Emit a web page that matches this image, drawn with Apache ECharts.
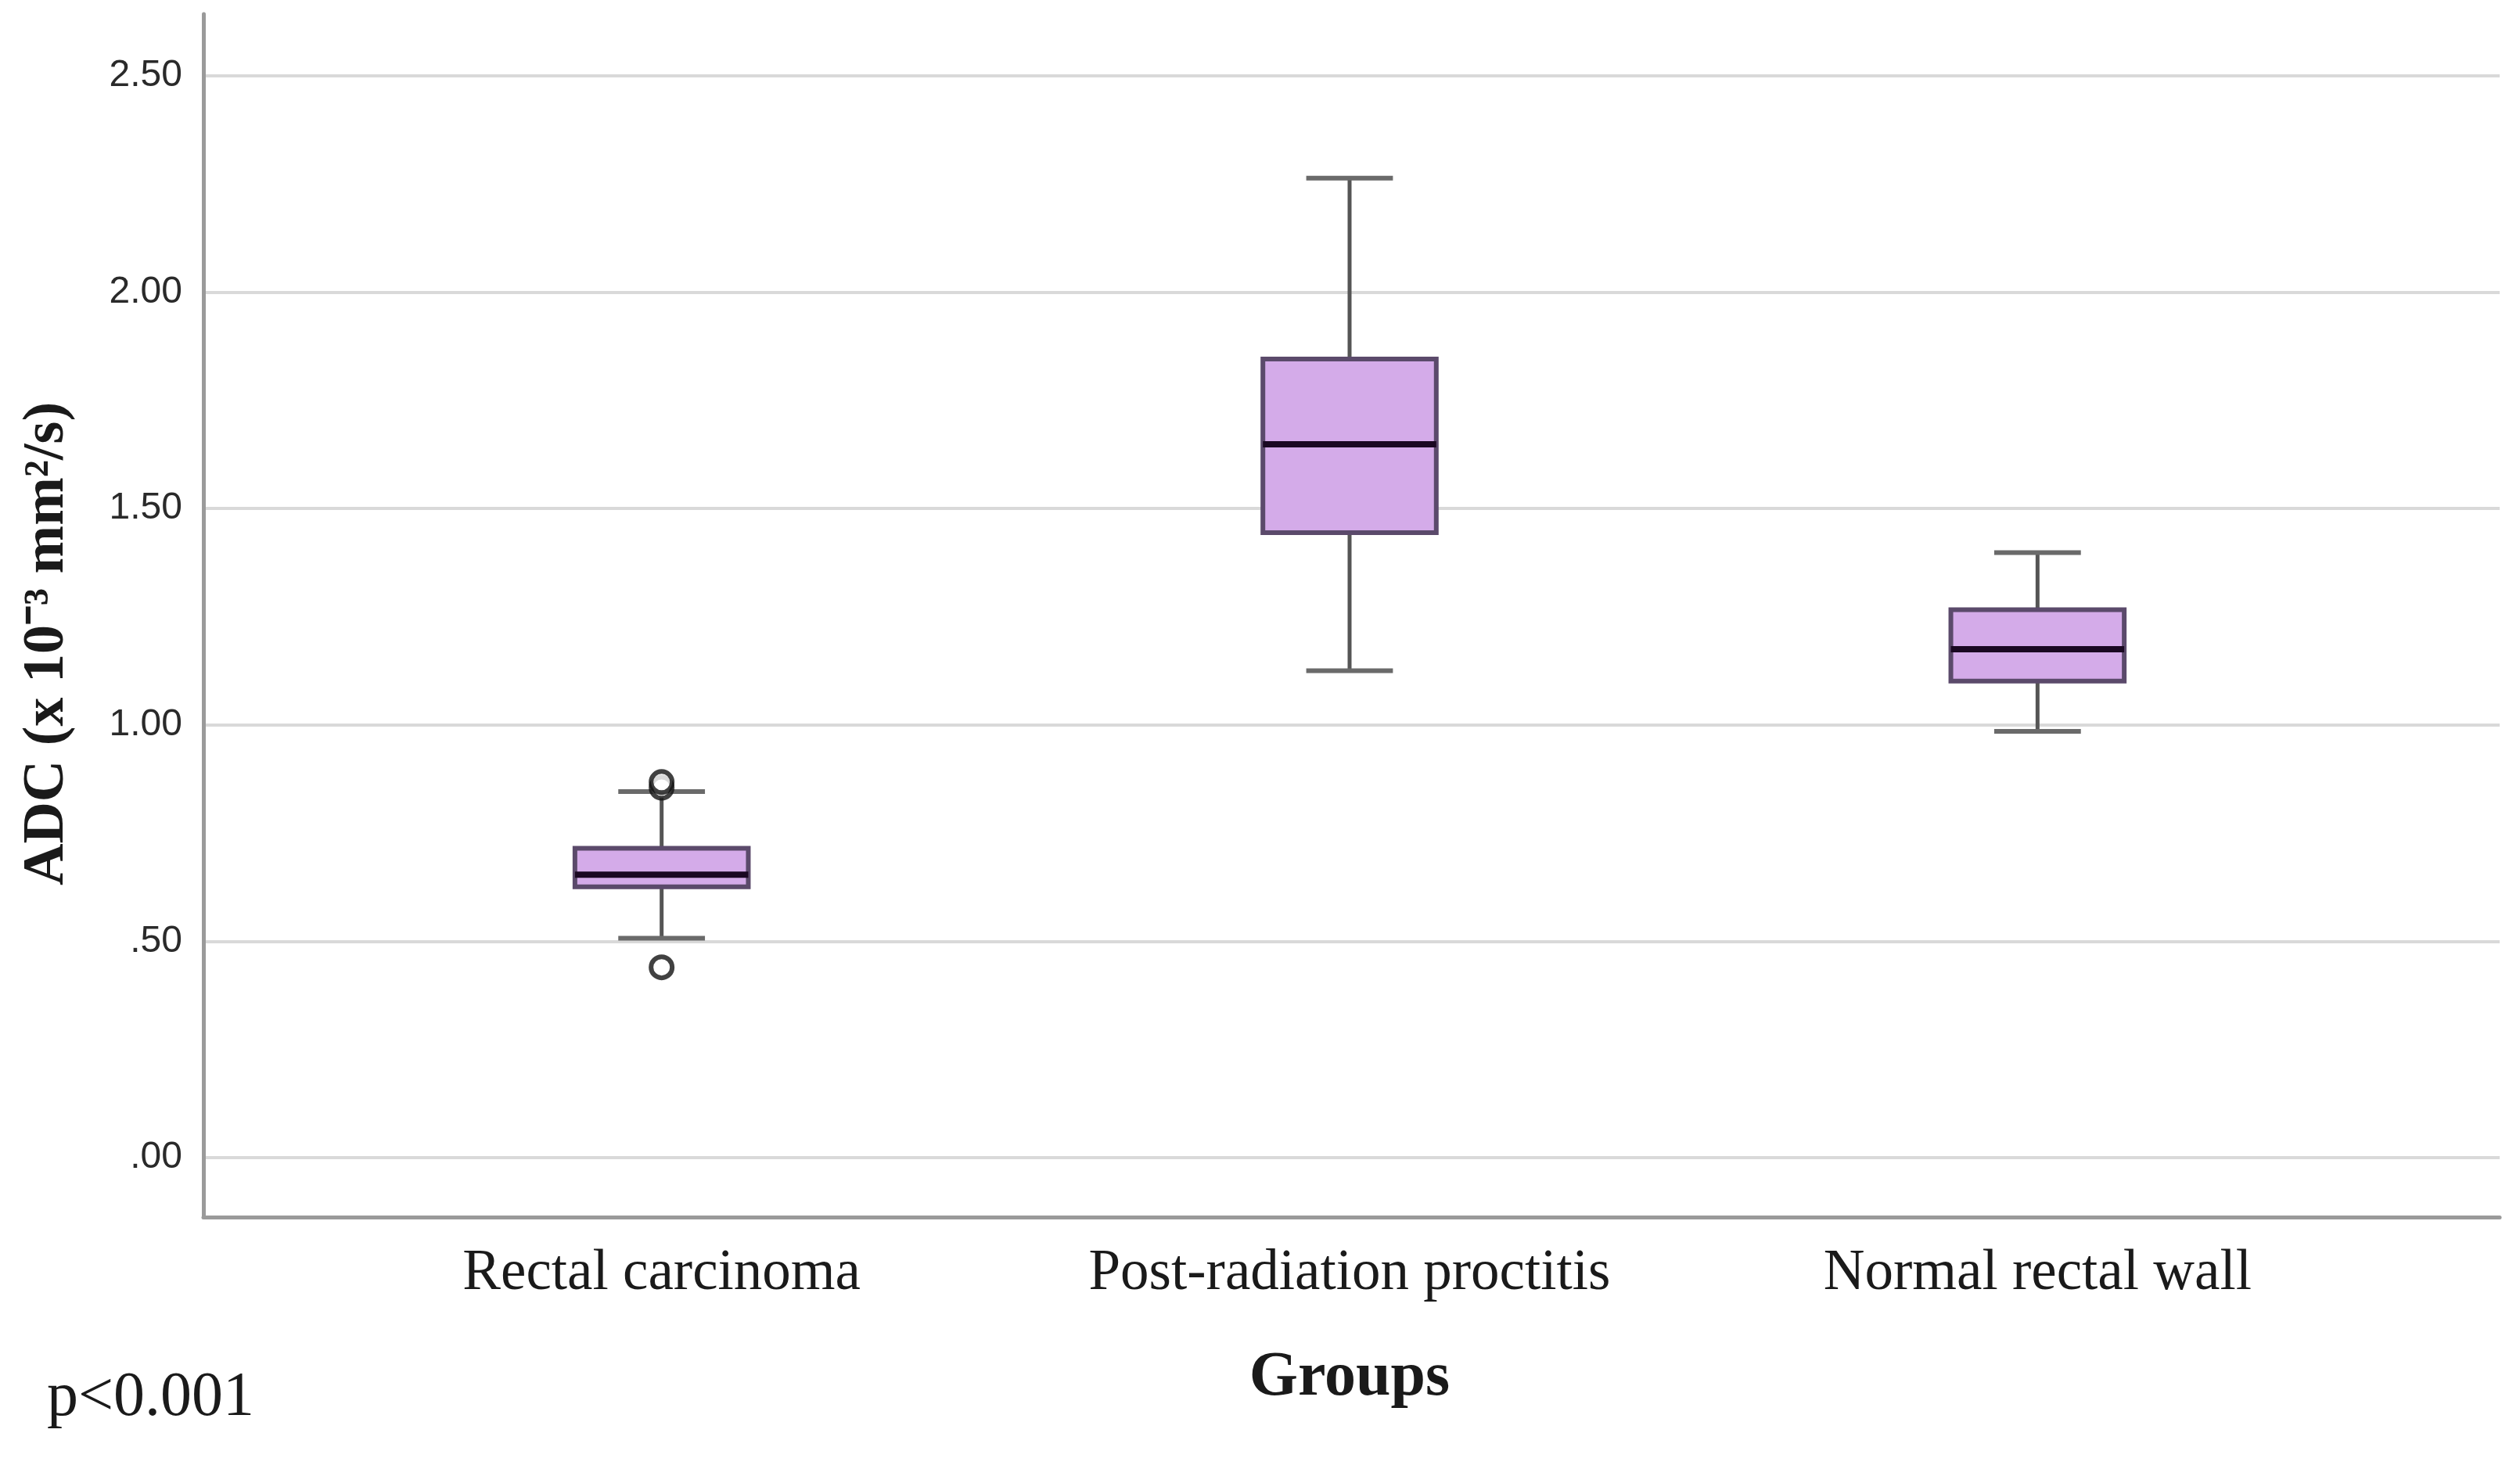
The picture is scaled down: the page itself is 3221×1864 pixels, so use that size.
<!DOCTYPE html>
<html lang="en">
  <head>
    <meta charset="UTF-8" />
    <title>ADC by group</title>
    <style>
      html, body { margin: 0; padding: 0; background: #fff; }
      #main { width: 3221px; height: 1864px; }
    </style>
  </head>
  <body>
    <div id="main"></div>

    <script src="https://cdn.jsdelivr.net/npm/echarts@6.0.0/dist/echarts.min.js"></script>
    <script>
      // ===== data =====
      const groups = ['Rectal carcinoma', 'Post-radiation proctitis', 'Normal rectal wall']
      const lowerWhisker = [0.507, 1.125, 0.985]
      const q1 = [0.626, 1.444, 1.101]
      const median = [0.654, 1.648, 1.175]
      const q3 = [0.715, 1.845, 1.266]
      const upperWhisker = [0.846, 2.263, 1.398]
      const outlierGroup = [0, 0, 0]
      const outlierValue = [0.44, 0.855, 0.868]
      const yTicks = [0, 0.5, 1, 1.5, 2, 2.5]

      const yMin = -0.137
      const yMax = 2.642

      const boxData = groups.map((g, i) => [i, lowerWhisker[i], q1[i], median[i], q3[i], upperWhisker[i]])
      const outlierData = outlierGroup.map((g, i) => [g, outlierValue[i]])

      // SPSS style labels: ".50", "1.00"
      const fmt = v => v.toFixed(2).replace(/^0\./, '.')

      const serif = "'Liberation Serif', 'Times New Roman', serif"

      function renderBox(params, api) {
        const idx = api.value(0)
        const band = api.size([1, 0])[0]
        const boxW = band * 0.252
        const capW = boxW * 0.5
        const pLow = api.coord([idx, api.value(1)])
        const pQ1 = api.coord([idx, api.value(2)])
        const pMed = api.coord([idx, api.value(3)])
        const pQ3 = api.coord([idx, api.value(4)])
        const pHigh = api.coord([idx, api.value(5)])
        const cx = pMed[0]
        const whisker = { stroke: '#555555', lineWidth: 5 }
        const cap = { stroke: '#6a6a6a', lineWidth: 6 }
        return {
          type: 'group',
          children: [
            { type: 'line', shape: { x1: cx, y1: pHigh[1], x2: cx, y2: pQ3[1] }, style: whisker },
            { type: 'line', shape: { x1: cx, y1: pQ1[1], x2: cx, y2: pLow[1] }, style: whisker },
            { type: 'line', shape: { x1: cx - capW / 2, y1: pHigh[1], x2: cx + capW / 2, y2: pHigh[1] }, style: cap },
            { type: 'line', shape: { x1: cx - capW / 2, y1: pLow[1], x2: cx + capW / 2, y2: pLow[1] }, style: cap },
            {
              type: 'rect',
              shape: { x: cx - boxW / 2, y: pQ3[1], width: boxW, height: pQ1[1] - pQ3[1] },
              style: { fill: '#d4abe9', stroke: '#5b4a6b', lineWidth: 6 }
            },
            {
              type: 'line',
              shape: { x1: cx - boxW / 2, y1: pMed[1], x2: cx + boxW / 2, y2: pMed[1] },
              style: { stroke: '#1a0822', lineWidth: 8 }
            }
          ]
        }
      }

      window.onload = function () {
        const myChart = echarts.init(document.getElementById('main'))

        const option = {
          backgroundColor: '#ffffff',
          animation: false,
          title: {
            text: 'p<0.001',
            left: 60,
            top: 1748,
            padding: 0,
            textStyle: { fontFamily: serif, fontSize: 80, fontWeight: 'normal', color: '#1a1a1a' }
          },
          grid: [
            // frame: y axis, gridlines, bottom axis line
            { left: 260, right: 26, top: 18, bottom: 308 },
            // category area (SPSS keeps padding on both sides)
            { left: 406, right: 177, top: 18, bottom: 308 }
          ],
          xAxis: [
            {
              type: 'value',
              gridIndex: 0,
              min: 0,
              max: 1,
              axisLine: { show: true, onZero: false, lineStyle: { color: '#9a9a9a', width: 5 } },
              axisTick: { show: false },
              axisLabel: { show: false },
              splitLine: { show: false }
            },
            {
              type: 'category',
              gridIndex: 1,
              data: groups,
              axisLine: { show: false },
              axisTick: { show: false },
              axisLabel: { fontFamily: serif, fontSize: 73, color: '#1a1a1a', margin: 36 },
              name: 'Groups',
              nameLocation: 'middle',
              nameGap: 166,
              nameTextStyle: { fontFamily: serif, fontSize: 80, fontWeight: 'bold', color: '#1a1a1a' }
            }
          ],
          yAxis: [
            {
              type: 'value',
              gridIndex: 0,
              min: yMin,
              max: yMax,
              axisLine: { show: true, lineStyle: { color: '#9a9a9a', width: 5 } },
              axisTick: { show: false, customValues: yTicks },
              axisLabel: {
                customValues: yTicks,
                formatter: fmt,
                margin: 27,
                fontFamily: "'Liberation Sans Narrow', 'Liberation Sans', sans-serif",
                fontSize: 48,
                color: '#2a2a2a'
              },
              splitLine: { show: true, lineStyle: { color: '#d9d9d9', width: 4 } },
              name: 'ADC (x 10⁻³ mm²/s)',
              nameLocation: 'middle',
              nameRotate: 90,
              nameGap: 162,
              nameTextStyle: {
                fontFamily: serif,
                fontSize: 74,
                fontWeight: 'bold',
                color: '#1a1a1a',
                padding: [0, 72, 0, 0]
              }
            },
            {
              type: 'value',
              gridIndex: 1,
              min: yMin,
              max: yMax,
              show: false,
              splitLine: { show: false }
            }
          ],
          series: [
            {
              type: 'custom',
              name: 'ADC',
              xAxisIndex: 1,
              yAxisIndex: 1,
              renderItem: renderBox,
              encode: { x: 0, y: [1, 2, 3, 4, 5] },
              data: boxData,
              z: 3
            },
            {
              type: 'scatter',
              name: 'Outliers',
              xAxisIndex: 1,
              yAxisIndex: 1,
              symbol: 'circle',
              symbolSize: 27,
              itemStyle: { color: '#ffffff', borderColor: '#111111', borderWidth: 6 },
              data: outlierData,
              z: 4
            }
          ]
        }

        myChart.setOption(option)
      }
    </script>
  </body>
</html>
